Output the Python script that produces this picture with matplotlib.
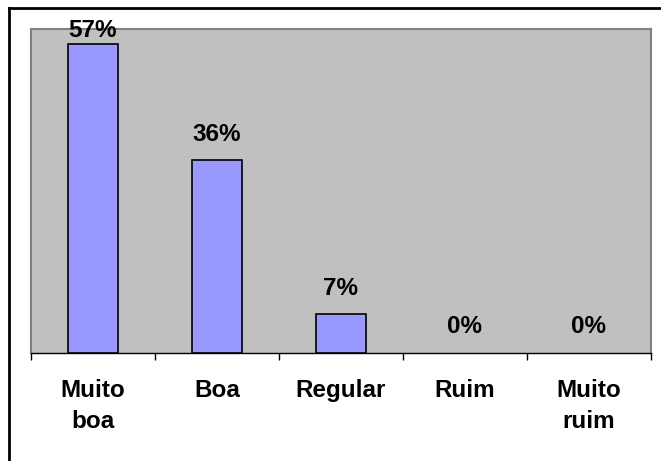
import numpy as np
from matplotlib import pyplot as plt
from matplotlib.lines import Line2D

categories = ["Muito\nboa", "Boa", "Regular", "Ruim", "Muito\nruim"]
values = [57.14, 35.71, 7.14, 0, 0]   # 8, 5, 1, 0, 0 de 14
labels = ["57%", "36%", "7%", "0%", "0%"]

plt.rcParams['font.family'] = ['Liberation Sans', 'DejaVu Sans']

W, H = 661, 461
fig = plt.figure(figsize=(W / 100, H / 100), dpi=100)
ax = fig.add_axes([31 / W, 1 - 353 / H, 620 / W, 324 / H])
ax.set_facecolor('#C0C0C0')

x = np.arange(len(categories))
edges = ['black' if v > 0 else 'none' for v in values]
ax.bar(x, values, width=0.4, color='#9999FF', edgecolor=edges, linewidth=1.2, zorder=3)

ax.set_xlim(-0.5, len(categories) - 0.5)
ax.set_ylim(0, 60)
ax.set_yticks([])

# valores acima das barras
for i, (v, s) in enumerate(zip(values, labels)):
    off = 2 if v > 55 else 10.5
    ax.annotate(s, (x[i], v), xytext=(0, off), textcoords='offset points',
                ha='center', va='bottom', fontsize=17.5, fontweight='bold')

ax.set_xticks(x)
ax.set_xticklabels(categories, fontsize=17.5, fontweight='bold', linespacing=1.45)
ax.tick_params(axis='x', which='major', length=0, pad=19)
ax.set_xticks(np.arange(len(categories) + 1) - 0.5, minor=True)
ax.tick_params(axis='x', which='minor', length=5, width=1, color='black')

for side in ['top', 'left', 'right']:
    ax.spines[side].set_color('#808080')
    ax.spines[side].set_linewidth(1.5)
ax.spines['bottom'].set_color('black')
ax.spines['bottom'].set_linewidth(1)

# borda externa (apenas esquerda e topo visiveis)
fig.add_artist(Line2D([9 / W, 9 / W], [0, 1 - 8 / H], color='black', linewidth=2))
fig.add_artist(Line2D([9 / W, 1], [1 - 8 / H, 1 - 8 / H], color='black', linewidth=2))

fig.savefig('out.png', dpi=100)
